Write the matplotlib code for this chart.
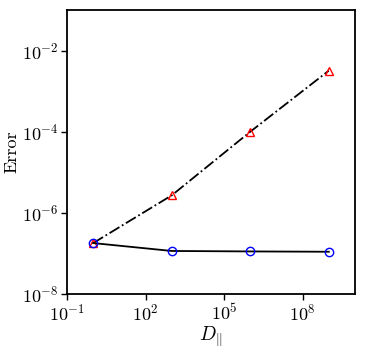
import matplotlib
matplotlib.use('Agg')
import matplotlib.pyplot as plt

# data
d_par = [1e0, 1e3, 1e6, 1e9]
err_tri = [1.8e-7, 2.7e-6, 1.0e-4, 3.2e-3]
err_circ = [1.8e-7, 1.15e-7, 1.12e-7, 1.1e-7]

plt.rcParams['font.family'] = 'serif'
plt.rcParams['font.serif'] = ['cmr10', 'DejaVu Serif']
plt.rcParams['mathtext.fontset'] = 'cm'
plt.rcParams['axes.formatter.use_mathtext'] = True
plt.rcParams['axes.unicode_minus'] = False

fig = plt.figure(figsize=(3.65, 3.49), dpi=100)
ax = fig.add_axes([67/365, 55/349, 288/365, 284/349])

ax.loglog(d_par, err_tri, color='black', linestyle='-.', linewidth=1.3,
          marker='^', markersize=6, markerfacecolor='none',
          markeredgecolor='red', markeredgewidth=1.0)
ax.loglog(d_par, err_circ, color='black', linestyle='-', linewidth=1.3,
          marker='o', markersize=6, markerfacecolor='none',
          markeredgecolor='blue', markeredgewidth=1.0)

ax.set_xlim(1e-1, 1e10)
ax.set_ylim(1e-8, 1e-1)
ax.set_xticks([1e-1, 1e2, 1e5, 1e8])
ax.set_yticks([1e-8, 1e-6, 1e-4, 1e-2])
ax.minorticks_off()
ax.tick_params(direction='out', length=4, width=1.0, labelsize=13, pad=2)
for s in ax.spines.values():
    s.set_linewidth(1.3)

ax.set_xlabel(r'$D_{||}$', fontsize=14, labelpad=1)
ax.set_ylabel('Error', fontsize=13, labelpad=2)

fig.savefig('out.png', dpi=100)
plt.close(fig)
